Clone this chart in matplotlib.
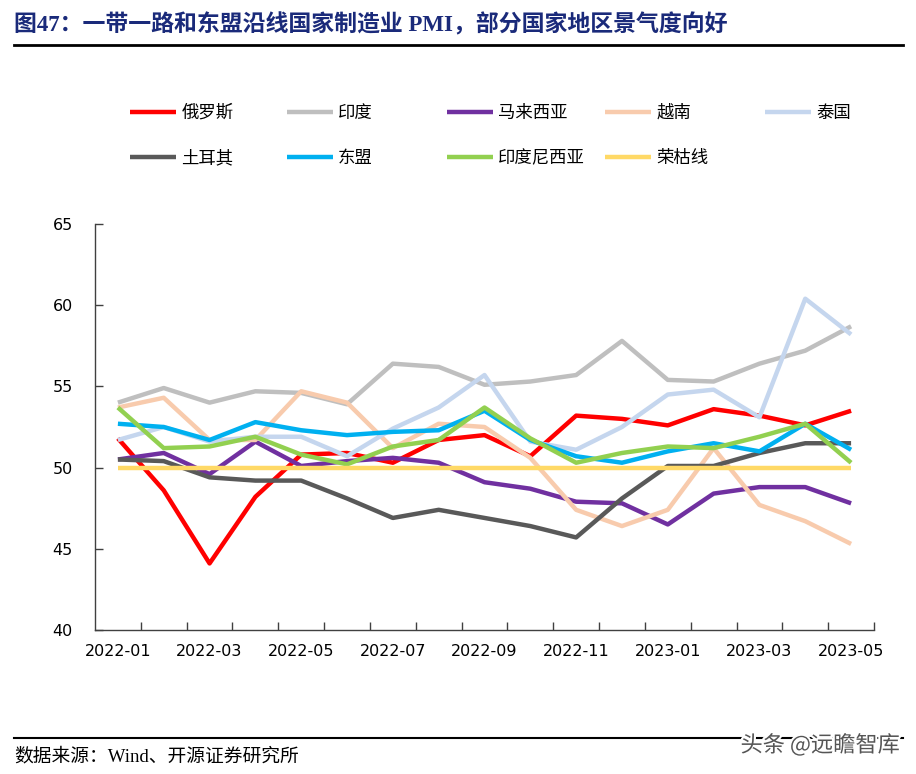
import matplotlib
matplotlib.use("Agg")
import matplotlib.pyplot as plt
import matplotlib.patheffects as pe
from matplotlib.lines import Line2D
from matplotlib.ticker import FixedLocator, NullFormatter

plt.rcParams['font.family'] = ['DejaVu Sans', 'Noto Sans CJK SC']

# 月份
months = ['2022-01', '2022-02', '2022-03', '2022-04', '2022-05', '2022-06',
          '2022-07', '2022-08', '2022-09', '2022-10', '2022-11', '2022-12',
          '2023-01', '2023-02', '2023-03', '2023-04', '2023-05']

# 各国制造业PMI
russia = [51.8, 48.6, 44.1, 48.2, 50.8, 50.9, 50.3, 51.7, 52.0, 50.7, 53.2, 53.0, 52.6, 53.6, 53.2, 52.6, 53.5]
india = [54.0, 54.9, 54.0, 54.7, 54.6, 53.9, 56.4, 56.2, 55.1, 55.3, 55.7, 57.8, 55.4, 55.3, 56.4, 57.2, 58.7]
malaysia = [50.5, 50.9, 49.6, 51.6, 50.1, 50.4, 50.6, 50.3, 49.1, 48.7, 47.9, 47.8, 46.5, 48.4, 48.8, 48.8, 47.8]
vietnam = [53.7, 54.3, 51.7, 51.7, 54.7, 54.0, 51.2, 52.7, 52.5, 50.6, 47.4, 46.4, 47.4, 51.2, 47.7, 46.7, 45.3]
thailand = [51.7, 52.5, 51.6, 51.9, 51.9, 50.7, 52.4, 53.7, 55.7, 51.6, 51.1, 52.5, 54.5, 54.8, 53.1, 60.4, 58.2]
turkey = [50.5, 50.4, 49.4, 49.2, 49.2, 48.1, 46.9, 47.4, 46.9, 46.4, 45.7, 48.1, 50.1, 50.1, 50.9, 51.5, 51.5]
asean = [52.7, 52.5, 51.7, 52.8, 52.3, 52.0, 52.2, 52.3, 53.5, 51.7, 50.7, 50.3, 51.0, 51.5, 51.0, 52.7, 51.1]
indonesia = [53.7, 51.2, 51.3, 51.9, 50.8, 50.2, 51.3, 51.7, 53.7, 51.8, 50.3, 50.9, 51.3, 51.2, 51.9, 52.7, 50.3]
rongku = [50.0] * len(months)

series = [
    ('俄罗斯', russia, '#FF0000'),
    ('印度', india, '#BFBFBF'),
    ('马来西亚', malaysia, '#7030A0'),
    ('越南', vietnam, '#F8CBAD'),
    ('泰国', thailand, '#C5D6EE'),
    ('土耳其', turkey, '#595959'),
    ('东盟', asean, '#00B0F0'),
    ('印度尼西亚', indonesia, '#92D050'),
    ('荣枯线', rongku, '#FFD966'),
]

fig = plt.figure(figsize=(9.16, 7.74), dpi=100)
ax = fig.add_axes([95 / 916, 1 - 630 / 774, (874 - 95) / 916, (630 - 224) / 774])

x = list(range(len(months)))
lines = []
for name, vals, col in series:
    ln, = ax.plot(x, vals, color=col, lw=3.2, label=name, solid_capstyle='butt')
    lines.append(ln)

ax.set_xlim(-0.5, len(months) - 0.5)
ax.set_ylim(40, 65)
ax.set_yticks([40, 45, 50, 55, 60, 65])
ax.set_xticks(x[::2])
ax.set_xticklabels(months[::2])
ax.xaxis.set_minor_locator(FixedLocator([i + 0.5 for i in range(len(months))]))
ax.xaxis.set_minor_formatter(NullFormatter())
ax.tick_params(axis='x', which='major', length=0, pad=10, labelsize=11.5)
ax.tick_params(axis='x', which='minor', direction='in', length=6, width=1, color='#404040')
ax.tick_params(axis='y', direction='in', length=6, width=1, color='#404040', pad=16, labelsize=11.5)
for s in ['top', 'right']:
    ax.spines[s].set_visible(False)
for s in ['left', 'bottom']:
    ax.spines[s].set_color('#404040')
    ax.spines[s].set_linewidth(1)

# 图例：五列
col_x = [130, 287, 447, 605, 765]
for c in range(5):
    hs = [lines[c]]
    if c + 5 < len(lines):
        hs.append(lines[c + 5])
    leg = fig.legend(handles=hs, labels=[h.get_label() for h in hs],
                     loc='upper left', bbox_to_anchor=(col_x[c] / 916, 1 - 104 / 774),
                     frameon=False, borderpad=0, borderaxespad=0,
                     handlelength=2.65, handletextpad=0.3, labelspacing=1.57,
                     prop={'family': ['Noto Sans CJK SC'], 'size': 12.5})

fig.text(14 / 916, 1 - 25 / 774, '图47：一带一路和东盟沿线国家制造业 PMI，部分国家地区景气度向好',
         family=['Liberation Serif', 'Noto Sans CJK SC'], fontsize=16.5, fontweight='bold',
         color='#1a2a7a', va='center', ha='left')
fig.add_artist(Line2D([14 / 916, 903 / 916], [1 - 45 / 774] * 2, color='black', lw=2))
fig.add_artist(Line2D([14 / 916, 903 / 916], [1 - 738 / 774] * 2, color='black', lw=1.5))
fig.text(14 / 916, 1 - 757 / 774, '数据来源：Wind、开源证券研究所',
         family=['Liberation Serif', 'Noto Sans CJK SC'], fontsize=13.5,
         color='black', va='center', ha='left')
fig.text(900 / 916, 1 - 745 / 774, '头条 @远瞻智库', family=['Noto Sans CJK SC'],
         fontsize=16, color='#555555', va='center', ha='right',
         path_effects=[pe.withStroke(linewidth=3, foreground='white')])

fig.savefig('out.png', dpi=100)
